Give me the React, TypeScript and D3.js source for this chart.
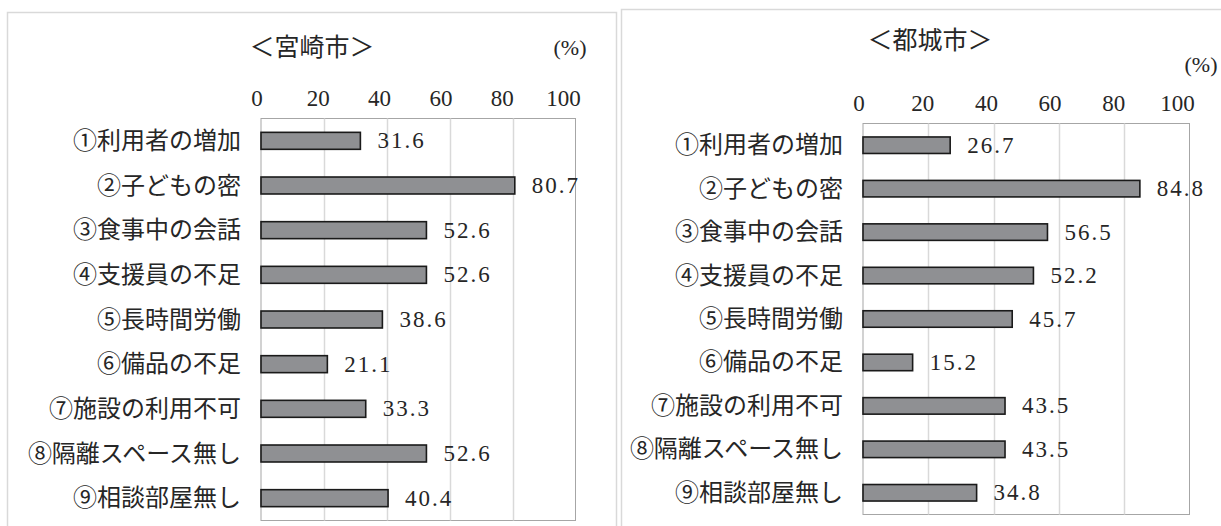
import React from "react";
import * as d3 from "d3";

const categories = [
  "①利用者の増加",
  "②子どもの密",
  "③食事中の会話",
  "④支援員の不足",
  "⑤長時間労働",
  "⑥備品の不足",
  "⑦施設の利用不可",
  "⑧隔離スペース無し",
  "⑨相談部屋無し",
];
const miyazakiValues = [31.6, 80.7, 52.6, 52.6, 38.6, 21.1, 33.3, 52.6, 40.4];
const miyakonojoValues = [26.7, 84.8, 56.5, 52.2, 45.7, 15.2, 43.5, 43.5, 34.8];
const tickValues = [0, 20, 40, 60, 80, 100];
const titles = ["＜宮崎市＞", "＜都城市＞"];
const unitLabel = "(%)";

const FONT = "'Liberation Serif', 'Noto Sans CJK JP', serif";
const TEXT = "#262626";

type PanelCfg = {
  title: string;
  values: number[];
  frame: { x: number; y: number; w: number; h: number };
  titleX: number;
  titleY: number;
  pctX: number;
  pctY: number;
  tickY: number;
  plot: { x0: number; x1: number; y0: number; y1: number };
  labelX: number;
};

const panels: PanelCfg[] = [
  {
    title: titles[0],
    values: miyazakiValues,
    frame: { x: 7.5, y: 12.5, w: 609, h: 530 },
    titleX: 312,
    titleY: 47,
    pctX: 570,
    pctY: 47,
    tickY: 98,
    plot: { x0: 261, x1: 575.5, y0: 118.5, y1: 520.5 },
    labelX: 241,
  },
  {
    title: titles[1],
    values: miyakonojoValues,
    frame: { x: 621.5, y: 9.5, w: 620, h: 530 },
    titleX: 930,
    titleY: 40,
    pctX: 1201,
    pctY: 64,
    tickY: 103,
    plot: { x0: 863, x1: 1189.5, y0: 123.5, y1: 514.5 },
    labelX: 843,
  },
];

function Panel({ cfg }: { cfg: PanelCfg }) {
  const x = d3.scaleLinear().domain([0, 100]).range([cfg.plot.x0, cfg.plot.x1]);
  const y = d3
    .scaleBand<string>()
    .domain(categories)
    .range([cfg.plot.y0, cfg.plot.y1])
    .paddingInner(0.62)
    .paddingOuter(0.31);
  return (
    <g>
      <rect
        x={cfg.frame.x}
        y={cfg.frame.y}
        width={cfg.frame.w}
        height={cfg.frame.h}
        fill="#fff"
        stroke="#d9d9d9"
        strokeWidth={1.5}
      />
      <text
        x={cfg.titleX}
        y={cfg.titleY}
        textAnchor="middle"
        dominantBaseline="central"
        fontFamily={FONT}
        fontSize={25}
        fill={TEXT}
      >
        {cfg.title}
      </text>
      <text
        x={cfg.pctX}
        y={cfg.pctY}
        textAnchor="middle"
        dominantBaseline="central"
        fontFamily={FONT}
        fontSize={22}
        fill={TEXT}
      >
        {unitLabel}
      </text>
      {tickValues.map((t) => (
        <text
          key={t}
          x={x(t) - 4 - t * 0.08}
          y={cfg.tickY}
          textAnchor="middle"
          dominantBaseline="central"
          fontFamily={FONT}
          fontSize={23}
          fill={TEXT}
        >
          {t}
        </text>
      ))}
      <rect
        x={cfg.plot.x0}
        y={cfg.plot.y0}
        width={cfg.plot.x1 - cfg.plot.x0}
        height={cfg.plot.y1 - cfg.plot.y0}
        fill="#fff"
        stroke="#a6a6a6"
        strokeWidth={1}
      />
      {tickValues.slice(1, -1).map((t) => (
        <line
          key={t}
          x1={Math.round(x(t)) + 0.5}
          x2={Math.round(x(t)) + 0.5}
          y1={cfg.plot.y0}
          y2={cfg.plot.y1}
          stroke="#d9d9d9"
          strokeWidth={1.5}
        />
      ))}
      {categories.map((c, i) => {
        const v = cfg.values[i];
        const by = y(c)!;
        const bh = y.bandwidth();
        return (
          <g key={c}>
            <rect
              x={x(0)}
              y={by}
              width={x(v) - x(0)}
              height={bh}
              fill="#8f9093"
              stroke="#1a1a1a"
              strokeWidth={1.6}
            />
            <text
              x={x(v) + 17}
              y={by + bh / 2}
              dominantBaseline="central"
              fontFamily={FONT}
              fontSize={23}
              letterSpacing={2}
              fill={TEXT}
            >
              {v.toFixed(1)}
            </text>
            <text
              x={cfg.labelX}
              y={by + bh / 2}
              textAnchor="end"
              dominantBaseline="central"
              fontFamily={FONT}
              fontSize={24}
              fill={TEXT}
            >
              {c}
            </text>
          </g>
        );
      })}
    </g>
  );
}

export default function App() {
  return (
    <svg
      width={1221}
      height={526}
      viewBox="0 0 1221 526"
      style={{ position: "absolute", left: 0, top: 0, display: "block", background: "#fff" }}
    >
      <rect x={0} y={0} width={1221} height={526} fill="#fff" />
      {panels.map((p) => (
        <Panel key={p.title} cfg={p} />
      ))}
    </svg>
  );
}
